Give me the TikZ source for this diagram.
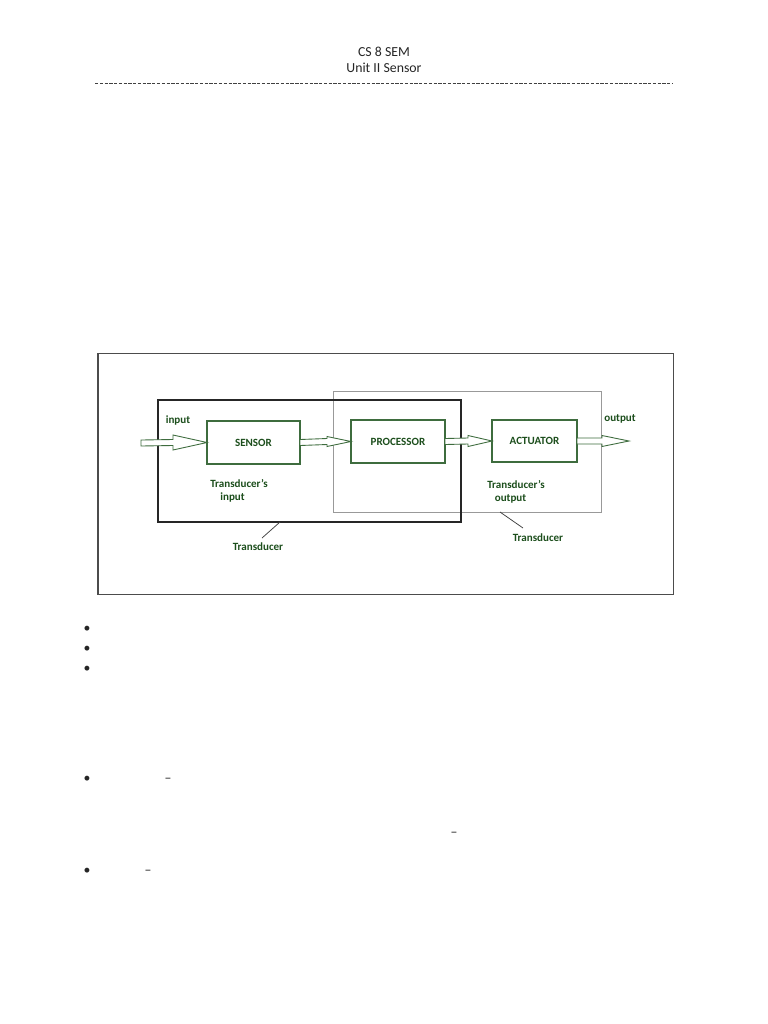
\documentclass[tikz,border=0pt]{standalone}
\usepackage{fontspec}
\setmainfont{Carlito}
\usepackage{xcolor}
\usetikzlibrary{calc,positioning}

\definecolor{boxgreen}{RGB}{62,108,62}
\definecolor{textgreen}{RGB}{28,78,28}
\newcommand{\px}{0.797pt}

\begin{document}
\begin{tikzpicture}[
    x=\px, y=-\px,
    font=\fontsize{11}{13}\selectfont,
    block/.style n args={2}{rectangle, draw=boxgreen, line width=0.9pt, minimum width=#1*\px, minimum height=#2*\px, inner sep=0pt, outer sep=0pt, text=textgreen, font=\bfseries\fontsize{8.8}{10}\selectfont},
    groupbox/.style n args={2}{rectangle, minimum width=#1*\px, minimum height=#2*\px, inner sep=0pt, outer sep=0pt},
    lbl/.style={text=textgreen, font=\bfseries\fontsize{8.8}{10}\selectfont, inner sep=0pt, align=left},
    leader/.style={draw=black!75, line width=0.6pt},
    glyph/.style={inner sep=0pt, text=black!85},
    hollow/.style n args={2}{draw=boxgreen, fill=white, line width=0.7pt, line join=miter, to path={
        ($(\tikztostart)+(0,-3)$) -- ($(\tikztotarget)+(-#1,-3)$) -- ($(\tikztotarget)+(-#1,-#2)$)
        -- (\tikztotarget) -- ($(\tikztotarget)+(-#1,#2)$) -- ($(\tikztotarget)+(-#1,3)$)
        -- ($(\tikztostart)+(0,3)$) -- cycle}}
]
\useasboundingbox[fill=white] (0,0) rectangle (768,1024);

% Page header
\node[text=black!85] (hdr_top) at (384,52) {CS 8 SEM};
\node[text=black!85] (hdr_unit) at (384,68) {Unit II Sensor};
\draw[black!75, line width=0.7pt, dash pattern=on 2.6pt off 1.2pt] (95,83) -- (672,83);

% Figure frame
\node[groupbox={575}{241}, draw=black!70, line width=0.8pt] (fig_frame) at (385.5,473.5) {};

% Transducer groups
\node[groupbox={268}{121}, draw=black!40, line width=0.8pt] (trans_out) at (467,451.5) {};
\node[groupbox={303}{122}, draw=black!85, line width=1.6pt] (trans_in) at (309.5,461) {};

% Blocks
\node[block={93}{43}] (sensor_box) at (253.5,442.5) {SENSOR};
\node[block={94}{43}] (proc_box) at (398,441.5) {PROCESSOR};
\node[block={85}{42}] (act_box) at (534.5,441) {ACTUATOR};

\coordinate (in_pt) at (141,443);
\coordinate (out_pt) at (629,441);

% Hollow arrows
\draw[hollow={34}{7.5}] (in_pt) to (sensor_box.west);
\draw[hollow={24}{5}] (sensor_box.east) to (proc_box.west);
\draw[hollow={24}{5.5}] (proc_box.east) to (act_box.west);
\draw[hollow={27}{5.5}] (act_box.east) to (out_pt);

% Labels
\node[lbl] (in_lbl) at (178,420) {input};
\node[lbl] (out_lbl) at (620,419) {output};
\node[lbl] (tin_lbl) at (239,491) {Transducer’s\\\hspace{8pt}input};
\node[lbl] (tout_lbl) at (516,492) {Transducer’s\\\hspace{6pt}output};
\node[lbl] (t1_lbl) at (258,547) {Transducer};
\node[lbl] (t2_lbl) at (538,538) {Transducer};

% Leader lines
\coordinate (t1_tick) at (280,522);
\coordinate (t1_end) at (262,538);
\coordinate (t2_tick) at (500,512);
\coordinate (t2_end) at (523,528);
\draw[leader] (t1_tick) -- (t1_end);
\draw[leader] (t2_tick) -- (t2_end);

% Bullets and dashes below the figure
\foreach \yy [count=\i] in {629,649,669,779,871}
    \node[glyph] (blt_\i) at (87,\yy) {•};
\node[glyph] (dsh_1) at (168,780) {–};
\node[glyph] (dsh_2) at (454,834) {–};
\node[glyph] (dsh_3) at (148,872) {–};

\end{tikzpicture}
\end{document}
